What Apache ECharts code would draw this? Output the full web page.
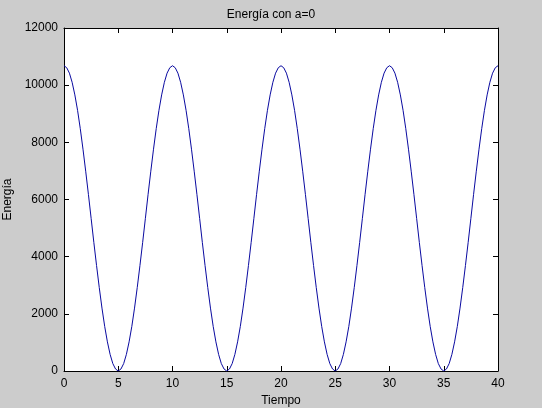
<!DOCTYPE html>
<html>
<head>
<meta charset="utf-8">
<script src="https://cdn.jsdelivr.net/npm/echarts@6/dist/echarts.min.js"></script>
<style>
html,body{margin:0;padding:0;background:#cccccc;}
#c{width:542px;height:408px;}
</style>
</head>
<body>
<div id="c"></div>
<script>
// Time samples (Tiempo)
var tiempo = [
0,0.25,0.5,0.75,1,1.25,1.5,1.75,2,2.25,2.5,2.75,3,3.25,3.5,3.75,4,4.25,4.5,4.75,
5,5.25,5.5,5.75,6,6.25,6.5,6.75,7,7.25,7.5,7.75,8,8.25,8.5,8.75,9,9.25,9.5,9.75,
10,10.25,10.5,10.75,11,11.25,11.5,11.75,12,12.25,12.5,12.75,13,13.25,13.5,13.75,14,14.25,14.5,14.75,
15,15.25,15.5,15.75,16,16.25,16.5,16.75,17,17.25,17.5,17.75,18,18.25,18.5,18.75,19,19.25,19.5,19.75,
20,20.25,20.5,20.75,21,21.25,21.5,21.75,22,22.25,22.5,22.75,23,23.25,23.5,23.75,24,24.25,24.5,24.75,
25,25.25,25.5,25.75,26,26.25,26.5,26.75,27,27.25,27.5,27.75,28,28.25,28.5,28.75,29,29.25,29.5,29.75,
30,30.25,30.5,30.75,31,31.25,31.5,31.75,32,32.25,32.5,32.75,33,33.25,33.5,33.75,34,34.25,34.5,34.75,
35,35.25,35.5,35.75,36,36.25,36.5,36.75,37,37.25,37.5,37.75,38,38.25,38.5,38.75,39,39.25,39.5,39.75,
40
];
// Energy values (Energía)
var energia = [
10680,10610,10420,10100,9660,9120,8480,7760,6990,6180,5340,4500,3690,2920,2200,1560,1020,580,260,70,
0,70,260,580,1020,1560,2200,2920,3690,4500,5340,6180,6990,7760,8480,9120,9660,10100,10420,10610,
10680,10610,10420,10100,9660,9120,8480,7760,6990,6180,5340,4500,3690,2920,2200,1560,1020,580,260,70,
0,70,260,580,1020,1560,2200,2920,3690,4500,5340,6180,6990,7760,8480,9120,9660,10100,10420,10610,
10680,10610,10420,10100,9660,9120,8480,7760,6990,6180,5340,4500,3690,2920,2200,1560,1020,580,260,70,
0,70,260,580,1020,1560,2200,2920,3690,4500,5340,6180,6990,7760,8480,9120,9660,10100,10420,10610,
10680,10610,10420,10100,9660,9120,8480,7760,6990,6180,5340,4500,3690,2920,2200,1560,1020,580,260,70,
0,70,260,580,1020,1560,2200,2920,3690,4500,5340,6180,6990,7760,8480,9120,9660,10100,10420,10610,
10680
];
var xTicks = [0,5,10,15,20,25,30,35,40];
var yTicks = [0,2000,4000,6000,8000,10000,12000];

var data = tiempo.map(function(t,i){return [t, energia[i]];});
var font = 'Liberation Sans, Arial, sans-serif';
var chart = echarts.init(document.getElementById('c'), null, {renderer:'canvas'});
var axisCommonX = {
  type:'value', min:xTicks[0], max:xTicks[xTicks.length-1], interval:xTicks[1]-xTicks[0],
  axisLine:{show:true,onZero:false,lineStyle:{color:'#000',width:1}},
  axisTick:{show:true,inside:true,length:5,lineStyle:{color:'#000'}},
  splitLine:{show:false}
};
var axisCommonY = {
  type:'value', min:yTicks[0], max:yTicks[yTicks.length-1], interval:yTicks[1]-yTicks[0],
  axisLine:{show:true,onZero:false,lineStyle:{color:'#000',width:1}},
  axisTick:{show:true,inside:true,length:5,lineStyle:{color:'#000'}},
  splitLine:{show:false}
};
chart.setOption({
  animation:false,
  backgroundColor:'#cccccc',
  title:{text:'Energía con a=0', left:'center', top:4,
    textStyle:{fontFamily:font,fontSize:12,fontWeight:'normal',color:'#000'}},
  grid:{left:64,right:44,top:28,bottom:37,show:true,backgroundColor:'#ffffff',borderWidth:0,
    containLabel:false,outerBoundsMode:'none'},
  xAxis:[
    Object.assign({}, axisCommonX, {position:'bottom',
      name:'Tiempo', nameLocation:'middle', nameGap:22,
      nameTextStyle:{fontFamily:font,fontSize:12,color:'#000'},
      axisLabel:{show:true,margin:7,fontFamily:font,fontSize:12,color:'#000',
        formatter:function(v){return String(v);}}}),
    Object.assign({}, axisCommonX, {position:'top', axisLabel:{show:false}})
  ],
  yAxis:[
    Object.assign({}, axisCommonY, {position:'left',
      name:'Energía', nameLocation:'middle', nameGap:48,
      nameTextStyle:{fontFamily:font,fontSize:12,color:'#000'},
      axisLabel:{show:true,margin:6,fontFamily:font,fontSize:12,color:'#000',
        formatter:function(v){return String(v);}}}),
    Object.assign({}, axisCommonY, {position:'right', axisLabel:{show:false}})
  ],
  series:[{
    type:'line', data:data, xAxisIndex:0, yAxisIndex:0,
    showSymbol:false, symbol:'none', smooth:false,
    lineStyle:{color:'#0a0aa0',width:1}
  }]
});
</script>
</body>
</html>
